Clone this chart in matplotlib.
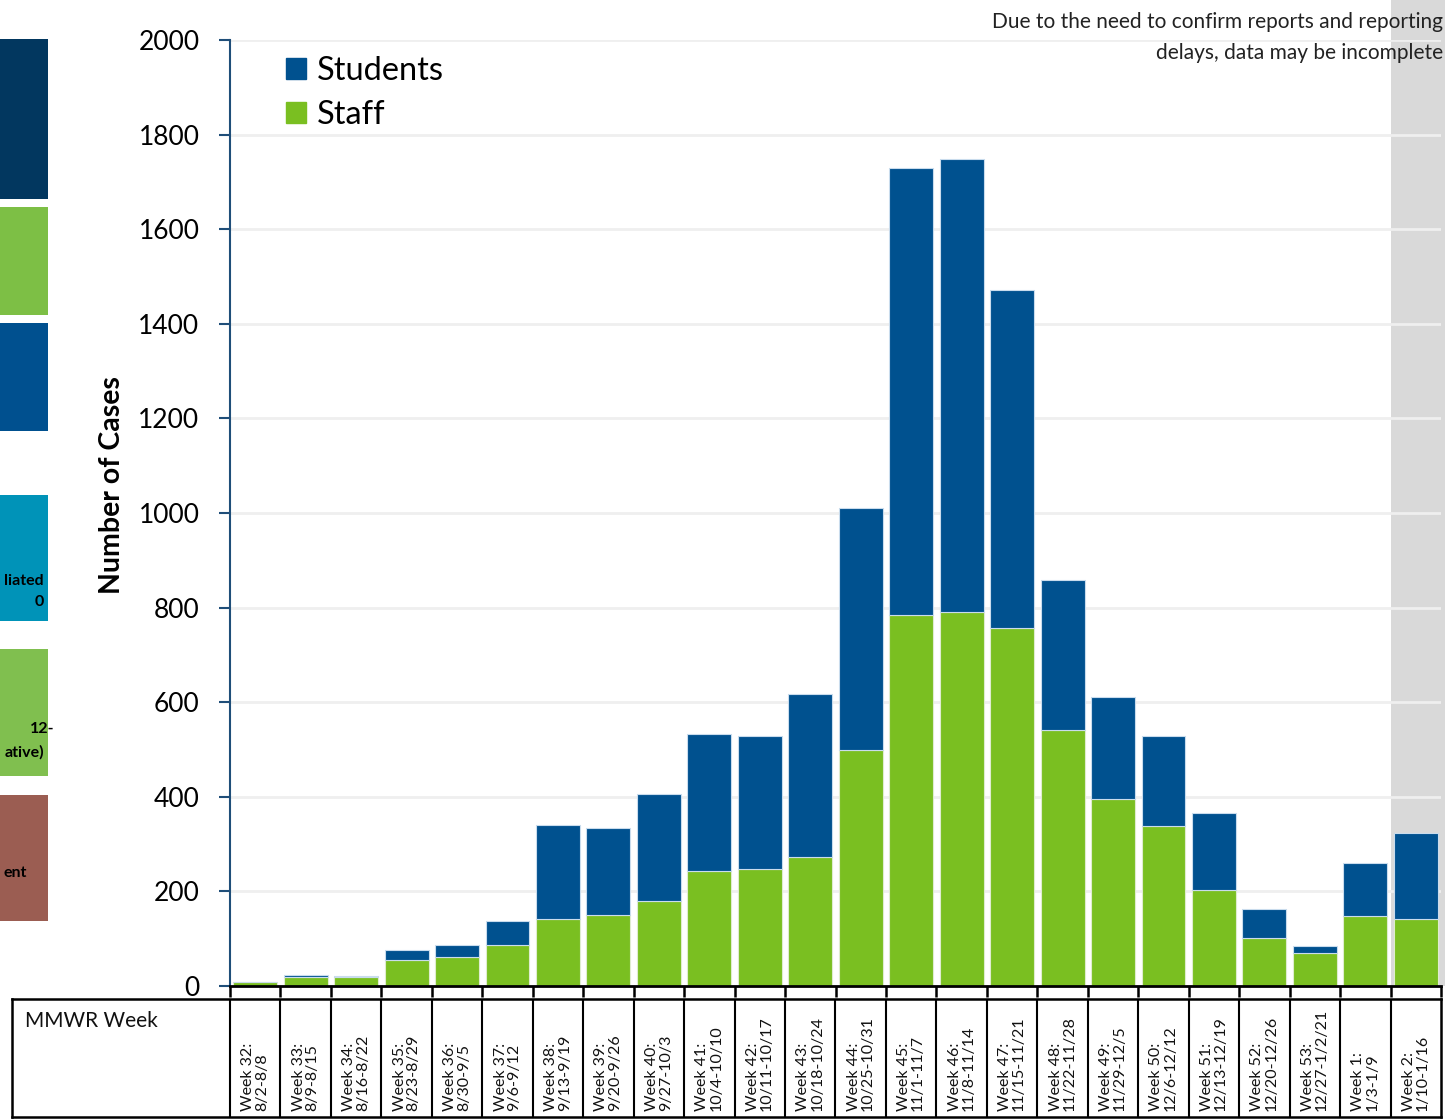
import numpy as np
import matplotlib.pyplot as plt
from matplotlib.patches import Rectangle, Patch

# data
weeks = ["Week 32:\n8/2-8/8", "Week 33:\n8/9-8/15", "Week 34:\n8/16-8/22", "Week 35:\n8/23-8/29",
         "Week 36:\n8/30-9/5", "Week 37:\n9/6-9/12", "Week 38:\n9/13-9/19", "Week 39:\n9/20-9/26",
         "Week 40:\n9/27-10/3", "Week 41:\n10/4-10/10", "Week 42:\n10/11-10/17", "Week 43:\n10/18-10/24",
         "Week 44:\n10/25-10/31", "Week 45:\n11/1-11/7", "Week 46:\n11/8-11/14", "Week 47:\n11/15-11/21",
         "Week 48:\n11/22-11/28", "Week 49:\n11/29-12/5", "Week 50:\n12/6-12/12", "Week 51:\n12/13-12/19",
         "Week 52:\n12/20-12/26", "Week 53:\n12/27-1/2/21", "Week 1:\n1/3-1/9", "Week 2:\n1/10-1/16"]
staff = [9, 19, 18, 55, 61, 86, 142, 151, 180, 243, 247, 272,
         500, 785, 791, 756, 541, 395, 338, 202, 101, 70, 148, 142]
students = [0, 4, 3, 22, 26, 52, 198, 184, 225, 290, 282, 346,
            510, 944, 957, 716, 317, 217, 190, 164, 61, 15, 112, 181]
yticks = [0, 200, 400, 600, 800, 1000, 1200, 1400, 1600, 1800, 2000]

c_students = "#00518f"
c_staff = "#7abf21"
W, H = 1448, 1120

plt.rcParams['font.family'] = ['Lato', 'DejaVu Sans']
fig = plt.figure(figsize=(W / 100, H / 100), dpi=100)

ax_l, ax_r, ax_t, ax_b = 230, 1441, 40, 986
ax = fig.add_axes([ax_l / W, 1 - ax_b / H, (ax_r - ax_l) / W, (ax_b - ax_t) / H])

x = np.arange(len(weeks))
ax.bar(x, staff, width=0.87, color=c_staff, edgecolor="#dfeccf", linewidth=0.8, zorder=2)
ax.bar(x, students, bottom=staff, width=0.87, color=c_students, edgecolor="#c9dced", linewidth=0.8, zorder=2)

ax.set_xlim(-0.5, len(weeks) - 0.5)
ax.set_ylim(0, 2000)
ax.set_yticks(yticks)
ax.tick_params(axis='y', labelsize=19, length=8, width=1.5, color="#1f4e79", pad=14)
ax.set_xticks(np.arange(len(weeks) + 1) - 0.5)
ax.set_xticklabels([])
ax.tick_params(axis='x', length=8, width=1.8, color="black", direction='out')
ax.spines['top'].set_visible(False)
ax.spines['right'].set_visible(False)
ax.spines['left'].set_color("#1f4e79")
ax.spines['left'].set_linewidth(1.5)
ax.spines['bottom'].set_color("black")
ax.spines['bottom'].set_linewidth(2)
ax.set_axisbelow(True)
ax.yaxis.grid(True, color="#efefef", linewidth=2)
ax.set_ylabel("Number of Cases", fontsize=20.5, fontweight='bold')
ax.yaxis.set_label_coords(-0.087, 0.53)

# shaded incomplete-data week
ax.axvspan(len(weeks) - 1.5, len(weeks) - 0.42, ymin=0, ymax=ax_b / (ax_b - ax_t),
           color="#d9d9d9", zorder=0.1, clip_on=False, lw=0)

handles = [Patch(color=c_students, label="Students"), Patch(color=c_staff, label="Staff")]
ax.legend(handles=handles, loc='upper left', bbox_to_anchor=(0.022, 1.014), frameon=False,
          fontsize=23.5, handlelength=0.6, handleheight=0.6, handletextpad=0.35, labelspacing=0.42)

fig.text(1443 / W, 1 - 12 / H, "Due to the need to confirm reports and reporting\ndelays, data may be incomplete",
         ha='right', va='top', fontsize=15, linespacing=1.7, color="#222222")

# table of MMWR weeks under the axis
tb_l, tb_t, tb_b = 12, 999, 1117
step = (ax_r - ax_l) / len(weeks)
tab = fig.add_axes([tb_l / W, 1 - tb_b / H, (ax_r - tb_l) / W, (tb_b - tb_t) / H])
tab.set_xlim(-0.5 - (ax_l - tb_l) / step, len(weeks) - 0.5)
tab.set_ylim(0, 1)
tab.set_xticks([])
tab.set_yticks([])
for s in tab.spines.values():
    s.set_linewidth(1.8)
    s.set_color("black")
for b in np.arange(len(weeks)) - 0.5:
    tab.axvline(b, color="black", linewidth=1.5)
tab.text(-0.5 - (ax_l - tb_l) / step + 0.25, 0.9, "MMWR Week", fontsize=15,
         ha='left', va='top', color="#111111")
for i, lab in enumerate(weeks):
    tab.text(i, 0.05, lab, rotation=90, ha='center', va='bottom', fontsize=11.5,
             multialignment='left', linespacing=1.0, color="#111111")

# cropped slide boxes on the left edge
boxes = [(39, 199, "#02375f"), (207, 315, "#7dbf45"), (323, 431, "#00508f"),
         (495, 621, "#0093b8"), (649, 776, "#80bf4f"), (795, 921, "#9b5d52")]
for top, bot, col in boxes:
    fig.add_artist(Rectangle((0, 1 - bot / H), 48 / W, (bot - top) / H, transform=fig.transFigure,
                             color=col, lw=0))
tx = 44 / W
fig.text(tx, 1 - 581 / H, "liated", ha='right', va='center', fontsize=11.5, fontweight='bold')
fig.text(35 / W, 1 - 602 / H, "0", ha='left', va='center', fontsize=11.5, fontweight='bold')
fig.text(30 / W, 1 - 729 / H, "12-", ha='left', va='center', fontsize=11.5, fontweight='bold')
fig.text(tx, 1 - 752 / H, "ative)", ha='right', va='center', fontsize=11.5, fontweight='bold')
fig.text(27 / W, 1 - 873 / H, "ent", ha='right', va='center', fontsize=11.5, fontweight='bold')

fig.savefig("out.png", dpi=100)
